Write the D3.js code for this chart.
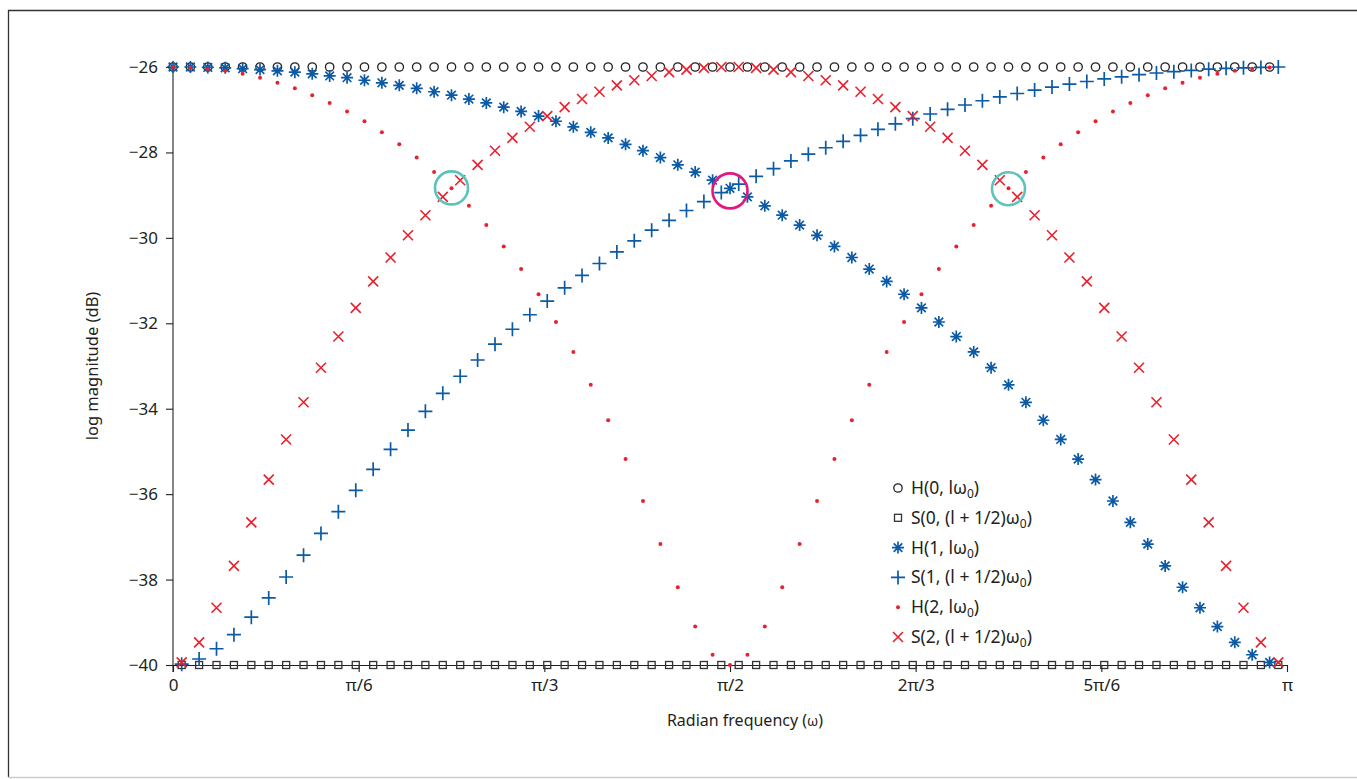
<!DOCTYPE html>
<html>
<head>
<meta charset="utf-8">
<script src="https://cdn.jsdelivr.net/npm/d3@7/dist/d3.min.js"></script>
<style>
  body { margin: 0; background: #fff; }
  svg { display: block; font-family: "Noto Sans", "Open Sans", sans-serif; }
</style>
</head>
<body>
<svg id="chart" width="1357" height="779"></svg>
<script>
// frequency grid: H at l*w0, S at (l + 1/2)*w0, w0 = pi/64, l = 0..63
const N = 64;
const sampleIndex = d3.range(N);

// values (dB)
const h0 = sampleIndex.map(() => -26);
const s0 = sampleIndex.map(() => -40);

const h1 = [-26.00, -26.00, -26.01, -26.02, -26.04, -26.06, -26.09, -26.12,
  -26.16, -26.21, -26.25, -26.31, -26.37, -26.43, -26.50, -26.58,
  -26.66, -26.75, -26.84, -26.94, -27.04, -27.15, -27.27, -27.40,
  -27.53, -27.66, -27.81, -27.96, -28.12, -28.29, -28.46, -28.65,
  -28.84, -29.04, -29.25, -29.47, -29.70, -29.94, -30.20, -30.46,
  -30.73, -31.02, -31.32, -31.64, -31.97, -32.31, -32.67, -33.04,
  -33.44, -33.85, -34.27, -34.72, -35.18, -35.66, -36.16, -36.66,
  -37.17, -37.68, -38.18, -38.66, -39.10, -39.47, -39.76, -39.94];

const s1 = [-39.98, -39.86, -39.62, -39.29, -38.88, -38.43, -37.94, -37.43,
  -36.92, -36.41, -35.91, -35.42, -34.95, -34.50, -34.06, -33.64,
  -33.24, -32.86, -32.49, -32.14, -31.80, -31.48, -31.17, -30.88,
  -30.60, -30.33, -30.07, -29.82, -29.59, -29.36, -29.15, -28.94,
  -28.74, -28.56, -28.38, -28.20, -28.04, -27.89, -27.74, -27.60,
  -27.46, -27.33, -27.21, -27.10, -26.99, -26.89, -26.79, -26.70,
  -26.62, -26.54, -26.47, -26.40, -26.34, -26.28, -26.23, -26.18,
  -26.14, -26.11, -26.08, -26.05, -26.03, -26.02, -26.01, -26.00];

const h2 = [-26.00, -26.01, -26.04, -26.09, -26.16, -26.25, -26.37, -26.50,
  -26.66, -26.84, -27.04, -27.27, -27.53, -27.81, -28.12, -28.46,
  -28.84, -29.25, -29.70, -30.20, -30.73, -31.32, -31.97, -32.67,
  -33.44, -34.27, -35.18, -36.16, -37.17, -38.18, -39.10, -39.76,
  -40.00, -39.76, -39.10, -38.18, -37.17, -36.16, -35.18, -34.27,
  -33.44, -32.67, -31.97, -31.32, -30.73, -30.20, -29.70, -29.25,
  -28.84, -28.46, -28.12, -27.81, -27.53, -27.27, -27.04, -26.84,
  -26.66, -26.50, -26.37, -26.25, -26.16, -26.09, -26.04, -26.01];

const s2 = [-39.94, -39.47, -38.66, -37.68, -36.66, -35.66, -34.72, -33.85,
  -33.04, -32.31, -31.64, -31.02, -30.46, -29.94, -29.47, -29.04,
  -28.65, -28.29, -27.96, -27.66, -27.40, -27.15, -26.94, -26.75,
  -26.58, -26.43, -26.31, -26.21, -26.12, -26.06, -26.02, -26.00,
  -26.00, -26.02, -26.06, -26.12, -26.21, -26.31, -26.43, -26.58,
  -26.75, -26.94, -27.15, -27.40, -27.66, -27.96, -28.29, -28.65,
  -29.04, -29.47, -29.94, -30.46, -31.02, -31.64, -32.31, -33.04,
  -33.85, -34.72, -35.66, -36.66, -37.68, -38.66, -39.47, -39.94];

const xTickValues = [0, Math.PI / 6, Math.PI / 3, Math.PI / 2, 2 * Math.PI / 3, 5 * Math.PI / 6, Math.PI];
const xTickLabels = ["0", "π/6", "π/3", "π/2", "2π/3", "5π/6", "π"];
const yTickValues = [-26, -28, -30, -32, -34, -36, -38, -40];

// highlighted crossings
const markOmega = [Math.PI / 4, Math.PI / 2, 3 * Math.PI / 4];
const markDb = [-28.83, -28.9, -28.85];
const markColor = ["#5cc2bb", "#e2187f", "#5cc2bb"];

const legendNames = ["H(0, lω", "S(0, (l + 1/2)ω", "H(1, lω", "S(1, (l + 1/2)ω", "H(2, lω", "S(2, (l + 1/2)ω"];

const blue = "#0b5aa6";
const red = "#e8212e";
const ink = "#231f20";

const svg = d3.select("#chart");

// frame
svg.append("path")
  .attr("d", "M1357,10.5 H8.5 V777")
  .attr("fill", "none")
  .attr("stroke", "#333")
  .attr("stroke-width", 1.3);
svg.append("line")
  .attr("x1", 8).attr("x2", 1357).attr("y1", 777.5).attr("y2", 777.5)
  .attr("stroke", "#ccc").attr("stroke-width", 1.3);

const x = d3.scaleLinear().domain([0, Math.PI]).range([173, 1287]);
const y = d3.scaleLinear().domain([-40, -26]).range([665, 67]);

const hOmega = sampleIndex.map(l => l * Math.PI / N);
const sOmega = sampleIndex.map(l => (l + 0.5) * Math.PI / N);

// axes
const xAxis = svg.append("g")
  .attr("transform", "translate(0," + y(-40) + ")")
  .call(d3.axisBottom(x).tickValues(xTickValues).tickFormat((d, i) => xTickLabels[i]).tickSize(7).tickSizeOuter(0).tickPadding(7));
const yAxis = svg.append("g")
  .attr("transform", "translate(" + x(0) + ",0)")
  .call(d3.axisLeft(y).tickValues(yTickValues).tickFormat(d => "−" + Math.abs(d)).tickSize(7).tickSizeOuter(0).tickPadding(8));

[xAxis, yAxis].forEach(a => {
  a.selectAll("path, line").attr("stroke", ink).attr("stroke-width", 1.1);
  a.selectAll("text").attr("fill", ink).style("font-size", "17px").style("font-family", "\"Noto Sans\", sans-serif");
});
// y axis runs a bit below the x axis like the other ticks
yAxis.select(".domain").attr("d", "M0," + y(-26) + "V" + (y(-40) + 7));

svg.append("text")
  .attr("transform", "translate(98," + y(-33) + ") rotate(-90)")
  .attr("text-anchor", "middle")
  .attr("fill", ink)
  .style("font-size", "16.5px")
  .text("log magnitude (dB)");

const xt = svg.append("text")
  .attr("x", 745).attr("y", 726)
  .attr("text-anchor", "middle")
  .attr("fill", ink)
  .style("font-size", "16px");
xt.append("tspan").text("Radian frequency (");
xt.append("tspan").style("font-size", "14px").text("ω");
xt.append("tspan").text(")");

// marker shapes
function drawMark(g, type, cx, cy) {
  if (type === 0) {
    g.append("circle").attr("cx", cx).attr("cy", cy).attr("r", 4.2)
      .attr("fill", "none").attr("stroke", ink).attr("stroke-width", 1.3);
  } else if (type === 1) {
    g.append("rect").attr("x", cx - 3.5).attr("y", cy - 3.5).attr("width", 7).attr("height", 7)
      .attr("fill", "none").attr("stroke", "#333").attr("stroke-width", 1.3);
  } else if (type === 2) {
    const a = 6, b = 4.3;
    g.append("path")
      .attr("d", "M" + (cx - a) + "," + cy + "h" + (2 * a) + "M" + cx + "," + (cy - a) + "v" + (2 * a) +
        "M" + (cx - b) + "," + (cy - b) + "l" + (2 * b) + "," + (2 * b) +
        "M" + (cx - b) + "," + (cy + b) + "l" + (2 * b) + "," + (-2 * b))
      .attr("stroke", blue).attr("stroke-width", 1.7).attr("fill", "none");
  } else if (type === 3) {
    const a = 7;
    g.append("path")
      .attr("d", "M" + (cx - a) + "," + cy + "h" + (2 * a) + "M" + cx + "," + (cy - a) + "v" + (2 * a))
      .attr("stroke", blue).attr("stroke-width", 1.7).attr("fill", "none");
  } else if (type === 4) {
    g.append("circle").attr("cx", cx).attr("cy", cy).attr("r", 2).attr("fill", red);
  } else {
    const b = 5;
    g.append("path")
      .attr("d", "M" + (cx - b) + "," + (cy - b) + "l" + (2 * b) + "," + (2 * b) +
        "M" + (cx - b) + "," + (cy + b) + "l" + (2 * b) + "," + (-2 * b))
      .attr("stroke", red).attr("stroke-width", 1.6).attr("fill", "none");
  }
}

const series = [
  { omega: hOmega, values: h0 },
  { omega: sOmega, values: s0 },
  { omega: hOmega, values: h1 },
  { omega: sOmega, values: s1 },
  { omega: hOmega, values: h2 },
  { omega: sOmega, values: s2 }
];

series.forEach((s, t) => {
  const g = svg.append("g");
  s.values.forEach((v, i) => drawMark(g, t, x(s.omega[i]), y(v)));
});

// circles round the crossings
svg.append("g").selectAll("circle")
  .data(markOmega)
  .enter()
  .append("circle")
  .attr("cx", d => x(d))
  .attr("cy", (d, i) => y(markDb[i]))
  .attr("r", (d, i) => i === 1 ? 17.5 : 16.5)
  .attr("fill", "none")
  .attr("stroke", (d, i) => markColor[i])
  .attr("stroke-width", 2.6);

// legend
const legend = svg.append("g");
legendNames.forEach((name, i) => {
  const ly = 488 + i * 29.8;
  drawMark(legend, i, 898, ly);
  const t = legend.append("text")
    .attr("x", 911).attr("y", ly + 6)
    .attr("fill", ink)
    .style("font-size", "17.5px");
  t.append("tspan").text(name);
  t.append("tspan").attr("dy", 4).style("font-size", "12px").text("0");
  t.append("tspan").attr("dy", -4).text(")");
});
</script>
</body>
</html>
